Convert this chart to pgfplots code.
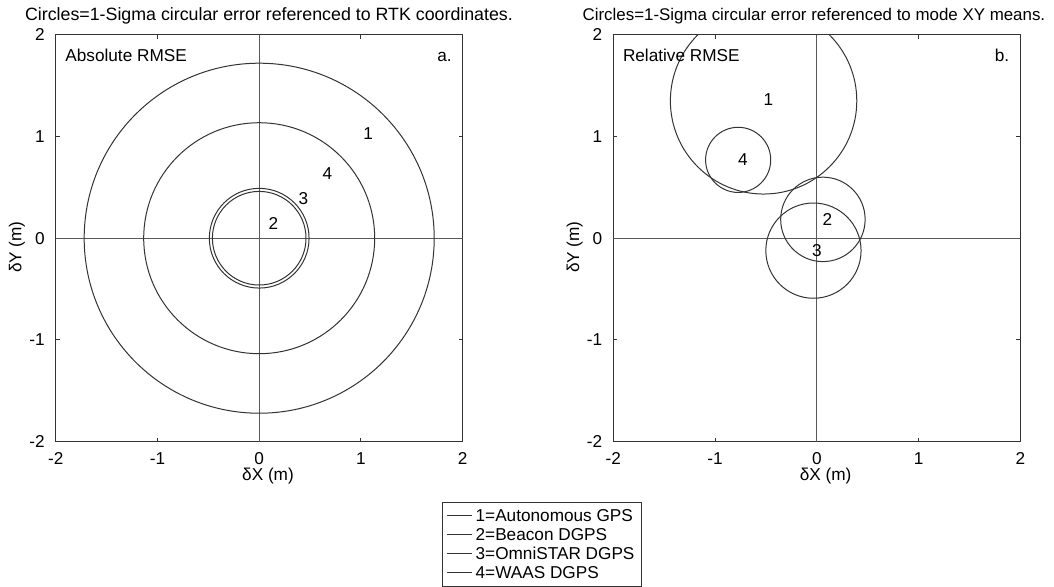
\documentclass[border=0pt]{standalone}
\usepackage{fontspec}
\setmainfont{Liberation Sans}
\usepackage{pgfplots}
\pgfplotsset{compat=1.18}
\newcommand{\fs}{\fontsize{8.6pt}{10.3pt}\selectfont}
\pgfplotsset{
  geom/.style={
    anchor=north west, scale only axis, width=203.5pt, height=203.5pt,
    xmin=-2, xmax=2, ymin=-2, ymax=2,
  },
  myax/.style={
    geom,
    xtick={-2,-1,0,1,2}, ytick={-2,-1,0,1,2},
    tick align=inside, major tick length=2pt,
    axis line style={black!80, line width=0.5pt},
    tick style={black!80, line width=0.5pt},
    /pgf/number format/assume math mode=true,
    ticklabel style={font=\fs},
    yticklabel style={xshift=-2pt},
    xticklabel style={yshift=-2pt},
    xlabel={δX (m)}, ylabel={δY (m)},
    every axis x label/.style={at={(axis description cs:0.5216,-0.096)}, anchor=base, font=\fs},
    every axis y label/.style={at={(axis description cs:-0.0951,0.478)}, rotate=90, anchor=center, font=\fs},
  },
  circ/.style={mark=o, mark size=#1*50.875pt, mark options={solid}, line width=0.5pt, black!80},
  zline/.style={black!65, line width=0.5pt, no marks},
}
\begin{document}
\begin{tikzpicture}[font=\fs]
\path[use as bounding box] (0,0) rectangle (527pt,-293pt);
% ---------------- panel a ----------------
\begin{axis}[myax, at={(27.85pt,-17.35pt)},
  title={Circles=1-Sigma circular error referenced to RTK coordinates.},
  every axis title/.style={at={(axis description cs:0.524,1.0361)}, anchor=base, font=\fontsize{8.9pt}{10.5pt}\selectfont},
  legend image code/.code={\draw[#1] (0pt,0pt) -- (12.5pt,0pt);},
  legend style={at={(axis description cs:1.4405,-0.148)}, anchor=north east,
    draw=black!80, line width=0.5pt, font=\fs, inner sep=2pt,
    nodes={inner sep=1.5pt, text height=6.2pt, text depth=0.3pt},
    cells={anchor=west}, row sep=0pt},
]
\addplot[circ=1.72] coordinates {(0,0)};
\addlegendentry{1=Autonomous GPS}
\addplot[circ=0.46] coordinates {(0,0)};
\addlegendentry{2=Beacon DGPS}
\addplot[circ=0.49] coordinates {(0,0)};
\addlegendentry{3=OmniSTAR DGPS}
\addplot[circ=1.135] coordinates {(0,0)};
\addlegendentry{4=WAAS DGPS}
\addplot[zline, forget plot] coordinates {(-2,0) (2,0)};
\addplot[zline, forget plot] coordinates {(0,-2) (0,2)};
\node[anchor=base west, inner sep=0, xshift=4.65pt, yshift=-13.15pt] at (rel axis cs:0,1) {Absolute RMSE};
\node[anchor=base east, inner sep=0, xshift=-5.35pt, yshift=-13.15pt] at (rel axis cs:1,1) {a.};
\node[inner sep=0] at (axis cs:1.07,1.03) {1};
\node[inner sep=0] at (axis cs:0.67,0.64) {4};
\node[inner sep=0] at (axis cs:0.434,0.39) {3};
\node[inner sep=0] at (axis cs:0.14,0.14) {2};
\end{axis}
% ---------------- panel b ----------------
% circle 1 of panel b (centre -0.523,1.35; radius 0.916) runs past ymax=2 and is clipped
\begin{scope}
\clip (306.65pt,-17.35pt) rectangle (510.15pt,-220.85pt);
\begin{axis}[geom, hide axis, at={(306.65pt,-17.35pt)}]
\draw[black!80, line width=0.5pt] (axis cs:-0.523,1.35) circle [radius=0.916];
\end{axis}
\end{scope}
\fill[white] (300pt,1pt) rectangle (527pt,-17.35pt);
\begin{axis}[myax, at={(306.65pt,-17.35pt)},
  title={Circles=1-Sigma circular error referenced to mode XY means.},
  every axis title/.style={at={(axis description cs:0.493,1.0361)}, anchor=base, font=\fontsize{8.45pt}{10pt}\selectfont},
]
\addplot[circ=0.415] coordinates {(0.06,0.185)};
\addplot[circ=0.468] coordinates {(-0.033,-0.122)};
\addplot[circ=0.32] coordinates {(-0.773,0.77)};
\addplot[zline] coordinates {(-2,0) (2,0)};
\addplot[zline] coordinates {(0,-2) (0,2)};
\node[anchor=base west, inner sep=0, xshift=4.65pt, yshift=-13.15pt] at (rel axis cs:0,1) {Relative RMSE};
\node[anchor=base east, inner sep=0, xshift=-5.35pt, yshift=-13.15pt] at (rel axis cs:1,1) {b.};
\node[inner sep=0] at (axis cs:-0.475,1.36) {1};
\node[inner sep=0] at (axis cs:-0.727,0.77) {4};
\node[inner sep=0] at (axis cs:0.104,0.18) {2};
\node[inner sep=0] at (axis cs:0.0,-0.12) {3};
\end{axis}
\end{tikzpicture}
\end{document}
